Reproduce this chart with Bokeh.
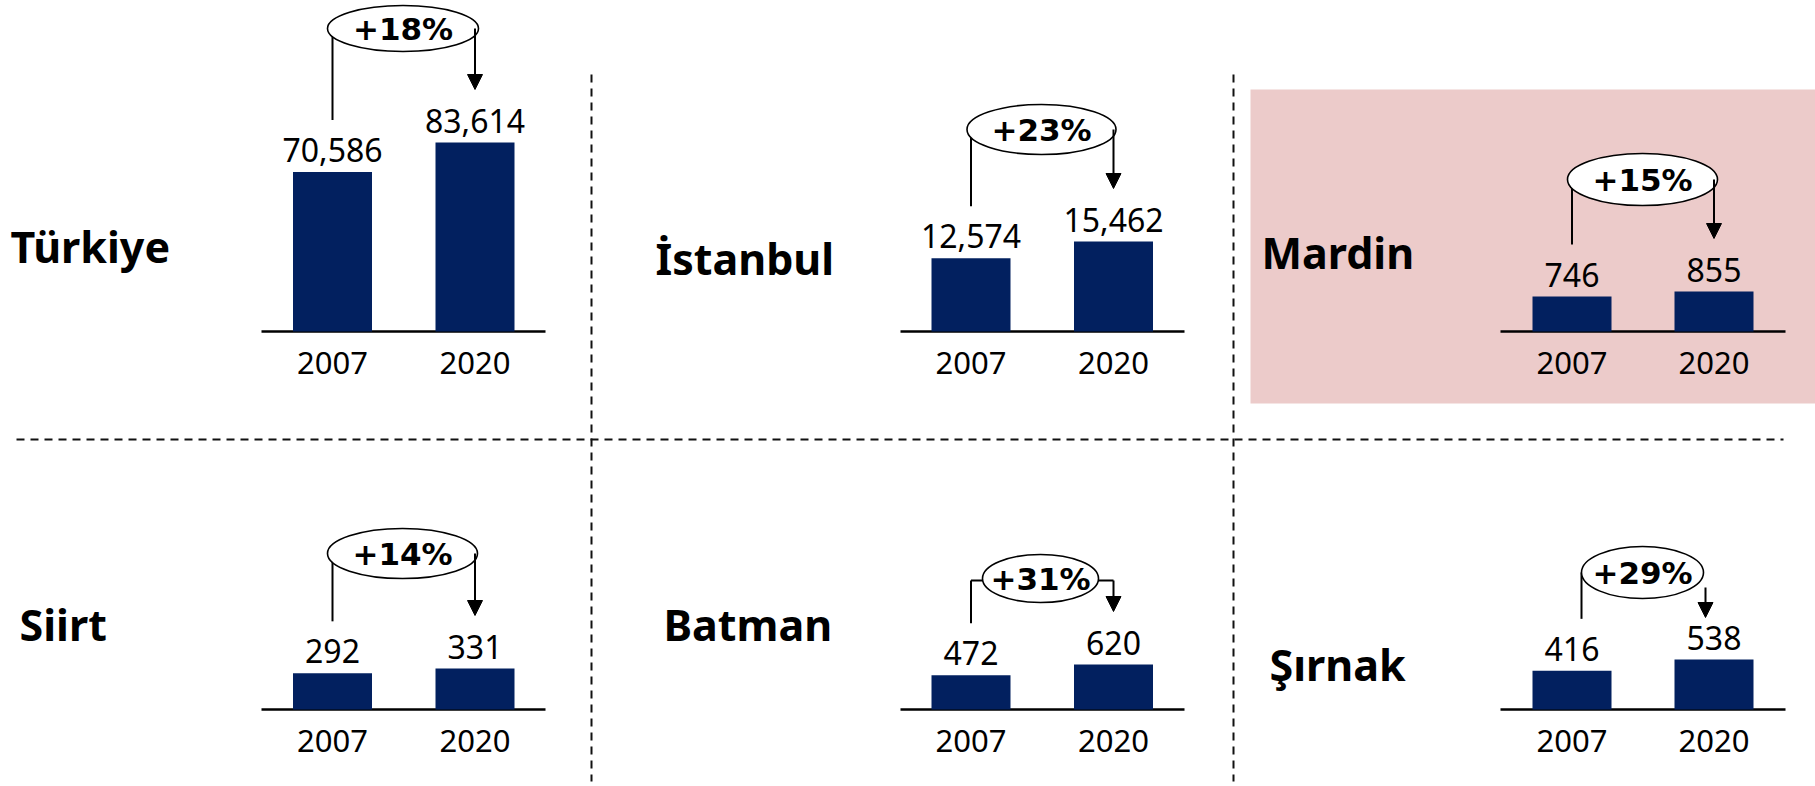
from bokeh.plotting import figure
from bokeh.models import Range1d, Arrow, NormalHead
from bokeh.core.properties import value
from bokeh.embed import file_html
from bokeh.resources import INLINE

# ---------------- data ----------------
regions = ["Türkiye", "İstanbul", "Mardin", "Siirt", "Batman", "Şırnak"]
years = ["2007", "2020"]
values_2007 = [70586, 12574, 746, 292, 472, 416]
values_2020 = [83614, 15462, 855, 331, 620, 538]
growth_labels = ["+18%", "+23%", "+15%", "+14%", "+31%", "+29%"]
highlighted = "Mardin"

# ---------------- layout (image pixel coordinates) ----------------
W, H = 1815, 786
X0, Y0 = 0, 0
NAVY = "#02205F"
PINK = "#ECCBCA"

col_centers = [(332, 474.5), (970.5, 1113), (1571.5, 1713.5)]
col_axis = [(261, 545), (900, 1184), (1500, 1785)]
row_base = [331, 709]
bar_w_px = 79
title_pos = [(10, 246), (655, 258), (1261, 252), (19, 624), (663, 624), (1269, 664)]  # left, cap-centre
bar_scale_px = [189, 90, 40, 41, 45, 50]       # pixel height of the taller bar in each panel
ell = [(402.5, 28, 151, 46), (1041, 129, 149, 50), (1642, 179, 150, 52),
       (402, 553, 150, 50), (1040, 578, 116, 48), (1642, 572, 122, 52)]
line_x_override = {5: (1581, 1705)}
right_start_override = {5: 587}
bracket_y = {4: 580}
left_gap = 52
right_gap = {5: 42}

p = figure(width=W, height=H, x_range=Range1d(X0, X0 + W), y_range=Range1d(Y0 + H, Y0),
           output_backend="svg", toolbar_location=None, min_border=0,
           x_axis_location=None, y_axis_location=None)
p.grid.visible = False
p.outline_line_color = None
p.background_fill_color = "white"
p.border_fill_color = "white"

# highlight box
p.quad(left=[1250], right=[X0 + W], top=[89], bottom=[403], fill_color=PINK, line_color=None)

# separators
p.segment(x0=[16], y0=[439], x1=[1783], y1=[439], line_color="#111111", line_width=2, line_dash="8 6")
p.segment(x0=[591, 1233], y0=[74, 74], x1=[591, 1233], y1=[781, 781],
          line_color="#111111", line_width=2, line_dash="8 6")

for i, name in enumerate(regions):
    col, row = i % 3, i // 3
    c0, c1 = col_centers[col]
    base = row_base[row]
    v0, v1 = values_2007[i], values_2020[i]
    k = bar_scale_px[i] / max(v0, v1)
    d = c1 - c0
    xs = -(c0 - X0) / d
    xr = f"x{i}"
    yr = f"y{i}"
    p.extra_x_ranges[xr] = Range1d(xs, xs + W / d)
    p.extra_y_ranges[yr] = Range1d(-(Y0 + H - base) / k, (base - Y0) / k)

    # baseline
    ax0, ax1 = col_axis[col]
    p.segment(x0=[ax0], y0=[base], x1=[ax1], y1=[base], line_color="black", line_width=2.4)

    # bars
    p.vbar(x=[0, 1], top=[v0, v1], bottom=0, width=bar_w_px / d, fill_color=NAVY,
           line_color=None, x_range_name=xr, y_range_name=yr)

    # value labels
    p.text(x=[0, 1], y=[v0, v1], text=[f"{v0:,}", f"{v1:,}"], x_range_name=xr, y_range_name=yr,
           text_align="center", text_baseline="middle", y_offset=-22,
           text_font=value("Noto Sans"), text_font_size="32px", text_color="black")
    # year labels
    p.text(x=[0, 1], y=[0, 0], text=years, x_range_name=xr, y_range_name=yr,
           text_align="center", text_baseline="middle", y_offset=31,
           text_font=value("Noto Sans"), text_font_size="31px", text_color="black")

    # title
    tx, ty = title_pos[i]
    p.text(x=[tx], y=[ty], text=[name], text_align="left", text_baseline="middle",
           text_font=value("Noto Sans"), text_font_style="bold", text_font_size="43px",
           text_color="black")

    # growth connector
    cx, cy, ew, eh = ell[i]
    lx, rx = line_x_override.get(i, (c0, c1))
    top0 = base - v0 * k
    top1 = base - v1 * k
    lbottom = top0 - left_gap
    rtip = top1 - right_gap.get(i, 53)
    if i in bracket_y:
        by = bracket_y[i]
        p.segment(x0=[lx], y0=[lbottom], x1=[lx], y1=[by], line_color="black", line_width=2)
        p.segment(x0=[lx], y0=[by], x1=[rx], y1=[by], line_color="black", line_width=2)
        rstart = by
    else:
        p.segment(x0=[lx], y0=[cy], x1=[lx], y1=[lbottom], line_color="black", line_width=2)
        rstart = right_start_override.get(i, cy)
    p.add_layout(Arrow(end=NormalHead(size=15, fill_color="black", line_color="black", line_width=1),
                       x_start=rx, y_start=rstart, x_end=rx, y_end=rtip,
                       line_color="black", line_width=2))
    p.ellipse(x=[cx], y=[cy], width=[ew], height=[eh], width_units="screen", height_units="screen",
              fill_color="white", line_color="black", line_width=1.6)
    p.text(x=[cx], y=[cy], text=[growth_labels[i]], text_align="center",
           text_baseline="middle", text_font=value("DejaVu Sans"), text_font_style="bold",
           text_font_size="31px", text_color="black")

open("out.html", "w").write(file_html(p, INLINE))
